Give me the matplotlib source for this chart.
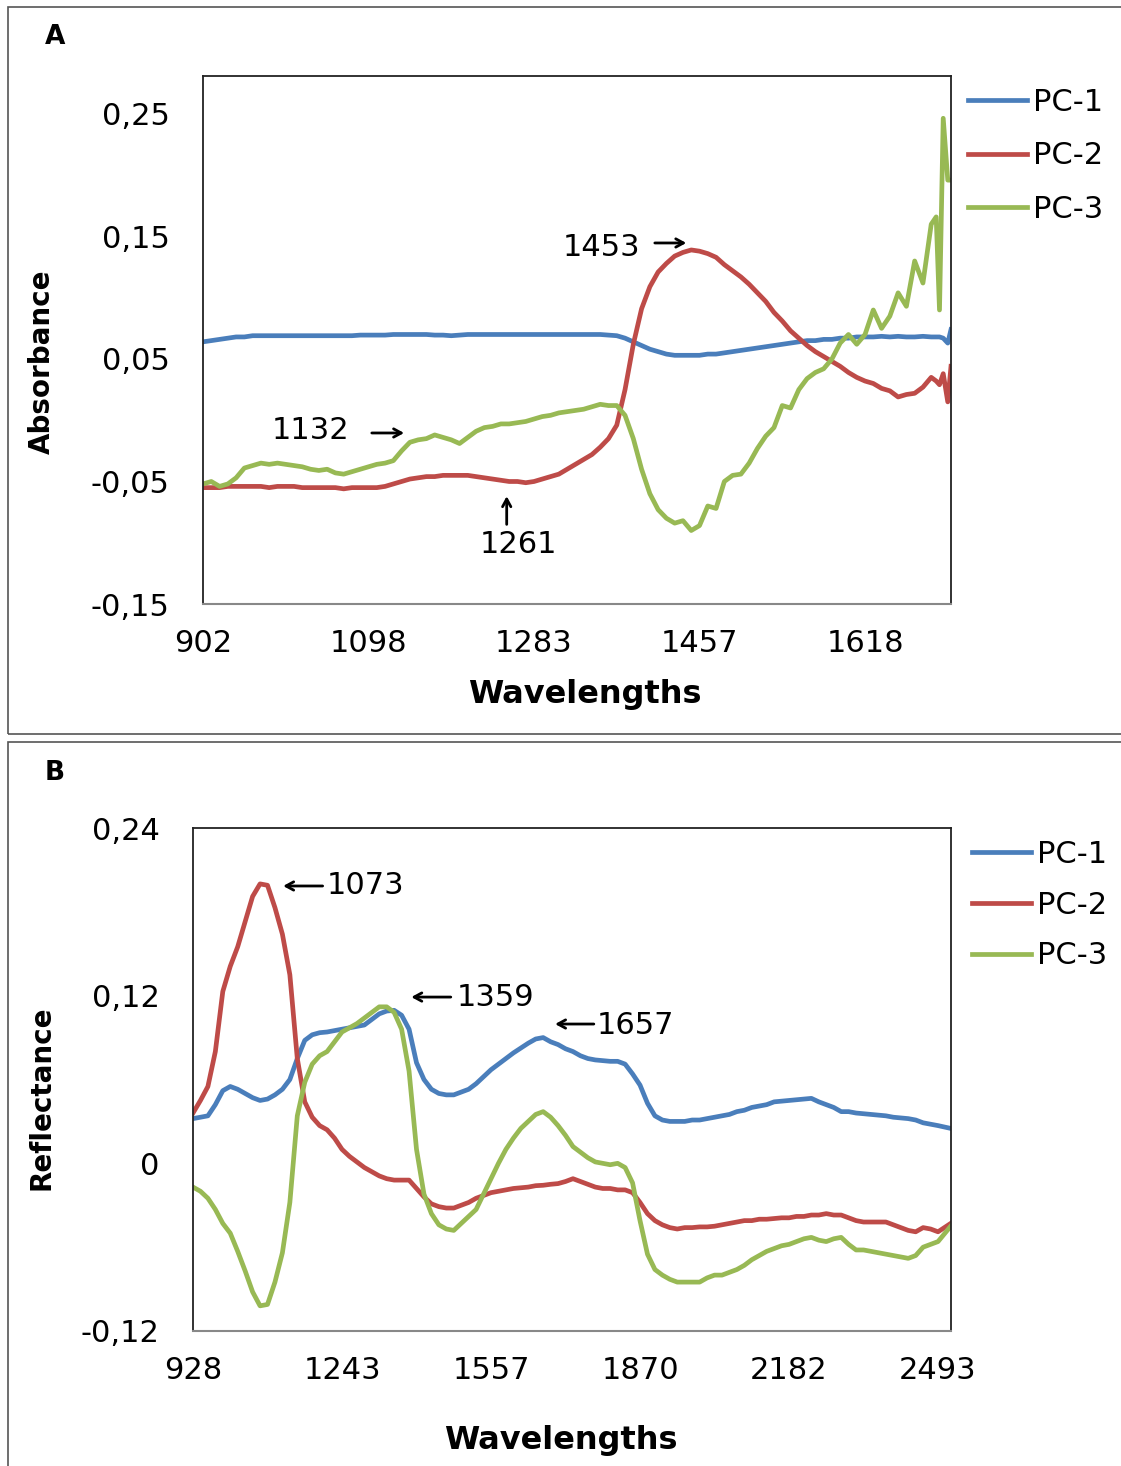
import numpy as np
import matplotlib
matplotlib.use("Agg")
import matplotlib.pyplot as plt
from matplotlib.patches import Rectangle

plt.rcParams['font.family'] = ['DejaVu Sans']

# ---------------- data: panel A (absorbance) ----------------
a_ticks = [0, 20, 40, 60, 80]
a_tick_labels = ['902', '1098', '1283', '1457', '1618']
a_pos = list(range(89)) + [88.6, 89, 89.45, 90, 90.39]
a_pc1 = [0.064, 0.065, 0.066, 0.067, 0.068, 0.068, 0.069, 0.069, 0.069, 0.069,
         0.069, 0.069, 0.069, 0.069, 0.069, 0.069, 0.069, 0.069, 0.069, 0.0695,
         0.0695, 0.0695, 0.0695, 0.070, 0.070, 0.070, 0.070, 0.070, 0.0695, 0.0695,
         0.069, 0.0695, 0.070, 0.070, 0.070, 0.070, 0.070, 0.070, 0.070, 0.070,
         0.070, 0.070, 0.070, 0.070, 0.070, 0.070, 0.070, 0.070, 0.070, 0.0695,
         0.069, 0.067, 0.064, 0.061, 0.058, 0.056, 0.054, 0.053, 0.053, 0.053,
         0.053, 0.054, 0.054, 0.055, 0.056, 0.057, 0.058, 0.059, 0.060, 0.061,
         0.062, 0.063, 0.064, 0.065, 0.065, 0.066, 0.066, 0.067, 0.067, 0.068,
         0.068, 0.068, 0.0685, 0.068, 0.0685, 0.068, 0.068, 0.0685, 0.068,
         0.068, 0.068, 0.067, 0.063, 0.074]
a_pc2 = [-0.055, -0.055, -0.055, -0.054, -0.054, -0.054, -0.054, -0.054, -0.055, -0.054,
         -0.054, -0.054, -0.055, -0.055, -0.055, -0.055, -0.055, -0.056, -0.055, -0.055,
         -0.055, -0.055, -0.054, -0.052, -0.050, -0.048, -0.047, -0.046, -0.046, -0.045,
         -0.045, -0.045, -0.045, -0.046, -0.047, -0.048, -0.049, -0.050, -0.050, -0.051,
         -0.050, -0.048, -0.046, -0.044, -0.040, -0.036, -0.032, -0.028, -0.022, -0.015,
         -0.004, 0.025, 0.062, 0.091, 0.109, 0.121, 0.128, 0.134, 0.137, 0.139,
         0.138, 0.136, 0.133, 0.127, 0.122, 0.117, 0.111, 0.104, 0.097, 0.088,
         0.081, 0.073, 0.067, 0.061, 0.056, 0.052, 0.048, 0.044, 0.039, 0.035,
         0.032, 0.030, 0.026, 0.024, 0.019, 0.021, 0.022, 0.027, 0.035,
         0.032, 0.029, 0.038, 0.015, 0.044]
a_pc3 = [-0.052, -0.050, -0.054, -0.052, -0.047, -0.039, -0.037, -0.035, -0.036, -0.035,
         -0.036, -0.037, -0.038, -0.040, -0.041, -0.040, -0.043, -0.044, -0.042, -0.040,
         -0.038, -0.036, -0.035, -0.033, -0.025, -0.018, -0.016, -0.015, -0.012, -0.014,
         -0.016, -0.019, -0.014, -0.009, -0.006, -0.005, -0.003, -0.003, -0.002, -0.001,
         0.001, 0.003, 0.004, 0.006, 0.007, 0.008, 0.009, 0.011, 0.013, 0.012,
         0.012, 0.004, -0.015, -0.040, -0.060, -0.073, -0.080, -0.084, -0.082, -0.090,
         -0.086, -0.070, -0.072, -0.050, -0.045, -0.044, -0.035, -0.023, -0.013, -0.006,
         0.012, 0.010, 0.025, 0.034, 0.039, 0.042, 0.050, 0.063, 0.070, 0.062,
         0.070, 0.090, 0.075, 0.085, 0.104, 0.093, 0.130, 0.112, 0.160,
         0.166, 0.090, 0.2465, 0.196, 0.196]
a_yticks = [-0.15, -0.05, 0.05, 0.15, 0.25]
a_ytick_labels = ['-0,15', '-0,05', '0,05', '0,15', '0,25']

# ---------------- data: panel B (reflectance) ----------------
b_ticks = [0, 20, 40, 60, 80, 100]
b_tick_labels = ['928', '1243', '1557', '1870', '2182', '2493']
b_pos = list(range(101)) + [101.7]
b_pc1 = [0.032, 0.033, 0.034, 0.042, 0.052, 0.055, 0.053, 0.050, 0.047, 0.045,
         0.046, 0.049, 0.053, 0.060, 0.075, 0.088, 0.092, 0.0935, 0.094, 0.095,
         0.096, 0.097, 0.098, 0.099, 0.103, 0.107, 0.109, 0.1095, 0.106, 0.096,
         0.072, 0.060, 0.053, 0.050, 0.049, 0.049, 0.051, 0.053, 0.057, 0.062,
         0.067, 0.071, 0.075, 0.079, 0.0825, 0.086, 0.089, 0.090, 0.087, 0.085,
         0.082, 0.080, 0.077, 0.075, 0.074, 0.0735, 0.073, 0.073, 0.071, 0.064,
         0.056, 0.043, 0.034, 0.031, 0.030, 0.030, 0.030, 0.031, 0.031, 0.032,
         0.033, 0.034, 0.035, 0.037, 0.038, 0.040, 0.041, 0.042, 0.044, 0.0445,
         0.045, 0.0455, 0.046, 0.0465, 0.044, 0.042, 0.040, 0.037, 0.037, 0.036,
         0.0355, 0.035, 0.0345, 0.034, 0.033, 0.0325, 0.032, 0.031, 0.029, 0.028,
         0.027, 0.025]
b_pc2 = [0.036, 0.045, 0.055, 0.080, 0.123, 0.141, 0.155, 0.173, 0.191, 0.200,
         0.199, 0.183, 0.164, 0.135, 0.075, 0.044, 0.033, 0.027, 0.024, 0.018,
         0.010, 0.005, 0.001, -0.003, -0.006, -0.009, -0.011, -0.012, -0.012, -0.012,
         -0.018, -0.024, -0.029, -0.031, -0.032, -0.032, -0.030, -0.028, -0.025, -0.023,
         -0.021, -0.020, -0.019, -0.018, -0.0175, -0.017, -0.016, -0.0157, -0.015, -0.0145,
         -0.013, -0.011, -0.013, -0.015, -0.017, -0.018, -0.018, -0.019, -0.019, -0.021,
         -0.028, -0.036, -0.041, -0.044, -0.046, -0.047, -0.046, -0.046, -0.0455, -0.0455,
         -0.045, -0.044, -0.043, -0.042, -0.041, -0.041, -0.040, -0.040, -0.0395, -0.039,
         -0.039, -0.038, -0.038, -0.037, -0.037, -0.036, -0.037, -0.037, -0.039, -0.041,
         -0.042, -0.042, -0.042, -0.042, -0.044, -0.046, -0.048, -0.049, -0.046, -0.047,
         -0.049, -0.043]
b_pc3 = [-0.017, -0.020, -0.025, -0.033, -0.043, -0.050, -0.063, -0.077, -0.092, -0.102,
         -0.101, -0.085, -0.064, -0.028, 0.034, 0.058, 0.071, 0.077, 0.080, 0.087,
         0.094, 0.097, 0.100, 0.104, 0.108, 0.112, 0.112, 0.108, 0.096, 0.066,
         0.010, -0.022, -0.036, -0.044, -0.047, -0.048, -0.043, -0.038, -0.033, -0.022,
         -0.011, 0.000, 0.010, 0.018, 0.025, 0.030, 0.035, 0.037, 0.033, 0.027,
         0.020, 0.012, 0.008, 0.004, 0.001, 0.000, -0.001, 0.000, -0.003, -0.014,
         -0.041, -0.065, -0.076, -0.080, -0.083, -0.085, -0.085, -0.085, -0.085, -0.082,
         -0.080, -0.080, -0.078, -0.076, -0.073, -0.069, -0.066, -0.063, -0.061, -0.059,
         -0.058, -0.056, -0.054, -0.053, -0.055, -0.056, -0.054, -0.053, -0.058, -0.062,
         -0.062, -0.063, -0.064, -0.065, -0.066, -0.067, -0.068, -0.066, -0.060, -0.058,
         -0.056, -0.045]
b_yticks = [-0.12, 0.0, 0.12, 0.24]
b_ytick_labels = ['-0,12', '0', '0,12', '0,24']

series_names = ['PC-1', 'PC-2', 'PC-3']
colors = ['#4A7EBB', '#BE4B48', '#98B954']

# ---------------- figure ----------------
W, H = 1121, 1466
fig = plt.figure(figsize=(W / 100, H / 100), dpi=100)


def fx(px):
    return px / W


def fy(py):
    return 1 - py / H


# panel frames
for top, bot in [(7, 734), (742, 1480)]:
    fig.patches.append(Rectangle((fx(8), fy(bot)), fx(1200) - fx(8), fy(top) - fy(bot),
                                 transform=fig.transFigure, fill=False,
                                 edgecolor='#555555', linewidth=1.2))

axA = fig.add_axes([fx(203), fy(604), (951 - 203) / W, (604 - 76) / H])
axB = fig.add_axes([fx(193), fy(1331), (951 - 193) / W, (1331 - 828) / H])

FS = 22


def style_axes(ax):
    for s in ['left', 'top', 'right']:
        ax.spines[s].set_color('#222222')
        ax.spines[s].set_linewidth(1.3)
    ax.spines['bottom'].set_color('#888888')
    ax.spines['bottom'].set_linewidth(1.5)
    ax.tick_params(axis='both', length=0, labelsize=FS)
    ax.tick_params(axis='y', pad=24)
    ax.tick_params(axis='x', pad=18)


# Panel A
for vals, c, n in zip([a_pc1, a_pc2, a_pc3], colors, series_names):
    axA.plot(a_pos, vals, color=c, lw=3.4, label=n, solid_joinstyle='round')
axA.set_xlim(0, 90.39)
axA.set_ylim(-0.15, 0.281)
axA.set_xticks(a_ticks)
axA.set_xticklabels(a_tick_labels)
axA.set_yticks(a_yticks)
axA.set_yticklabels(a_ytick_labels)
style_axes(axA)

# Panel B
for vals, c, n in zip([b_pc1, b_pc2, b_pc3], colors, series_names):
    axB.plot(b_pos, vals, color=c, lw=3.4, label=n, solid_joinstyle='round')
axB.set_xlim(0, 101.74)
axB.set_ylim(-0.12, 0.24)
axB.set_xticks(b_ticks)
axB.set_xticklabels(b_tick_labels)
axB.set_yticks(b_yticks)
axB.set_yticklabels(b_ytick_labels)
style_axes(axB)

# legends
axA.legend(loc='upper left', bbox_to_anchor=(fx(968), fy(88)), bbox_transform=fig.transFigure,
           frameon=False, borderpad=0, borderaxespad=0, handlelength=1.93,
           handletextpad=0.2, labelspacing=0.80, fontsize=FS)
axB.legend(loc='upper left', bbox_to_anchor=(fx(972), fy(840)), bbox_transform=fig.transFigure,
           frameon=False, borderpad=0, borderaxespad=0, handlelength=1.93,
           handletextpad=0.2, labelspacing=0.71, fontsize=FS)

# axis titles and panel letters
fig.text(fx(585), fy(695), 'Wavelengths', ha='center', va='center', fontsize=23, fontweight='bold')
fig.text(fx(561), fy(1440), 'Wavelengths', ha='center', va='center', fontsize=23, fontweight='bold')
fig.text(fx(42), fy(362), 'Absorbance', ha='center', va='center', rotation=90, fontsize=20, fontweight='bold')
fig.text(fx(42), fy(1098), 'Reflectance', ha='center', va='center', rotation=90, fontsize=20, fontweight='bold')
fig.text(fx(55), fy(37), 'A', ha='center', va='center', fontsize=19, fontweight='bold')
fig.text(fx(55), fy(773), 'B', ha='center', va='center', fontsize=19, fontweight='bold')

arrow_kw = dict(arrowstyle='->,head_length=0.55,head_width=0.3', lw=2.0, color='black',
                shrinkA=0, shrinkB=0)

# annotations panel A
axA.text(48.1, 0.1414, '1453', ha='center', va='center', fontsize=FS)
axA.annotate('', xy=(58.4, 0.1447), xytext=(54.6, 0.1447), arrowprops=arrow_kw)
axA.text(13.05, -0.008, '1132', ha='center', va='center', fontsize=FS)
axA.annotate('', xy=(24.3, -0.0104), xytext=(20.4, -0.0104), arrowprops=arrow_kw)
axA.text(38.1, -0.1018, '1261', ha='center', va='center', fontsize=FS)
axA.annotate('', xy=(36.7, -0.062), xytext=(36.7, -0.085), arrowprops=arrow_kw)

# annotations panel B
axB.annotate('', xy=(12.1, 0.1985), xytext=(17.4, 0.1985), arrowprops=arrow_kw)
axB.text(18.0, 0.1985, '1073', ha='left', va='center', fontsize=FS)
axB.annotate('', xy=(29.3, 0.119), xytext=(34.6, 0.119), arrowprops=arrow_kw)
axB.text(35.4, 0.119, '1359', ha='left', va='center', fontsize=FS)
axB.annotate('', xy=(48.6, 0.0997), xytext=(53.8, 0.0997), arrowprops=arrow_kw)
axB.text(54.2, 0.0985, '1657', ha='left', va='center', fontsize=FS)

fig.savefig('out.png', dpi=100)
